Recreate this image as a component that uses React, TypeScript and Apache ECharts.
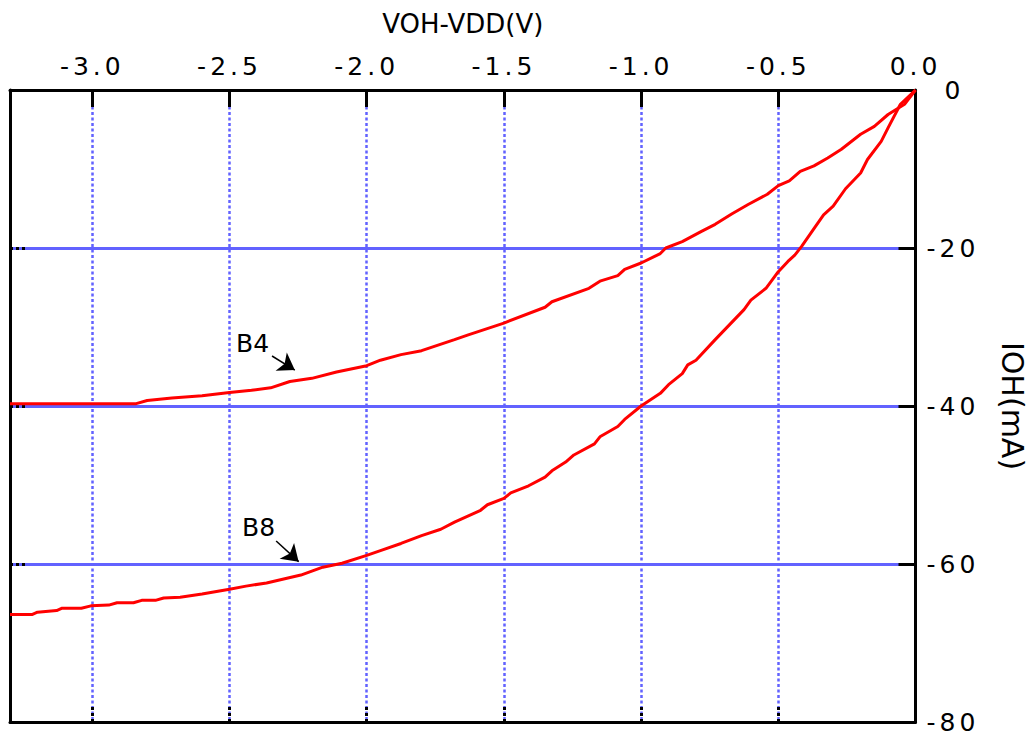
import React, { useEffect, useRef } from 'react';
import * as echarts from 'echarts';

// B4 curve (VOH-VDD in V, IOH in mA)
const b4X = [-3.3, -2.84, -2.80, -2.71, -2.60, -2.50, -2.42, -2.35, -2.28, -2.20,
  -2.11, -2.00, -1.95, -1.875, -1.80, -1.68, -1.63, -1.50, -1.35, -1.325,
  -1.19, -1.15, -1.085, -1.06, -1.00, -0.93, -0.91, -0.85, -0.78, -0.73,
  -0.67, -0.61, -0.54, -0.50, -0.46, -0.42, -0.37, -0.32, -0.27, -0.20,
  -0.15, -0.10, -0.04, 0];
const b4Y = [-39.7, -39.7, -39.3, -39.0, -38.7, -38.3, -38.0, -37.7, -36.9, -36.5,
  -35.7, -34.9, -34.2, -33.5, -33.0, -31.6, -31.0, -29.5, -27.5, -26.8,
  -25.1, -24.2, -23.5, -22.7, -21.9, -20.7, -20.0, -19.2, -17.9, -17.0,
  -15.7, -14.5, -13.2, -12.1, -11.5, -10.3, -9.6, -8.6, -7.5, -5.6,
  -4.6, -3.1, -1.8, 0];

// B8 curve
const b8X = [-3.3, -3.22, -3.20, -3.13, -3.11, -3.04, -3.005, -2.94, -2.91, -2.85,
  -2.82, -2.77, -2.74, -2.68, -2.60, -2.50, -2.44, -2.365, -2.24, -2.16,
  -2.09, -2.00, -1.95, -1.875, -1.80, -1.73, -1.68, -1.585, -1.56, -1.50,
  -1.475, -1.41, -1.35, -1.325, -1.275, -1.245, -1.17, -1.15, -1.085, -1.06,
  -1.00, -0.93, -0.90, -0.85, -0.83, -0.80, -0.73, -0.625, -0.60, -0.545,
  -0.50, -0.465, -0.44, -0.415, -0.365, -0.335, -0.30, -0.255, -0.20, -0.175,
  -0.125, -0.10, -0.055, 0];
const b8Y = [-66.4, -66.4, -66.1, -65.9, -65.6, -65.6, -65.3, -65.2, -64.9, -64.9,
  -64.6, -64.6, -64.3, -64.2, -63.8, -63.2, -62.8, -62.4, -61.4, -60.4,
  -59.9, -58.9, -58.3, -57.4, -56.4, -55.6, -54.7, -53.2, -52.5, -51.7,
  -51.0, -50.1, -49.0, -48.2, -47.1, -46.2, -44.8, -43.9, -42.6, -41.7,
  -40.0, -38.4, -37.3, -35.9, -34.8, -34.2, -31.6, -27.8, -26.6, -25.1,
  -23.0, -21.7, -20.9, -19.8, -17.3, -15.8, -14.7, -12.5, -10.5, -8.8,
  -6.5, -4.8, -1.8, 0];

// annotations: label anchor and arrow (start, end) in data coordinates
const b4LabelAt = [-2.416, -32.15];
const b4Arrow = [[-2.345, -33.67], [-2.262, -35.45]];
const b8LabelAt = [-2.394, -55.38];
const b8Arrow = [[-2.330, -57.09], [-2.248, -59.70]];

const xMin = -3.3;
const xMax = 0;
const yMin = -80;
const yMax = 0;

const BLUE = '#6262ff';
const RED = '#ff0000';
const TICK_FONT = 'DejaVu Sans, Verdana';
const NAME_FONT = 'DejaVu Sans';

export default function App() {
  const ref = useRef<HTMLDivElement>(null);

  useEffect(() => {
    const chart = echarts.init(ref.current!, null, { renderer: 'svg' });

    const xLabel = (v: number) => {
      const k = v / 0.5;
      if (Math.abs(k - Math.round(k)) > 1e-6) return '';
      return v.toFixed(1);
    };

    const annot = (label: string, at: number[], arrow: number[][]) => ({
      markLine: {
        silent: true,
        symbol: ['none', 'arrow'],
        symbolSize: 16,
        label: { show: false },
        lineStyle: { color: '#000', width: 1.5, type: 'solid' },
        data: [[{ coord: arrow[0] }, { coord: arrow[1] }]],
      },
      markPoint: {
        silent: true,
        symbol: 'circle',
        symbolSize: 1,
        itemStyle: { color: 'rgba(0,0,0,0)' },
        label: {
          show: true,
          position: 'inside',
          formatter: label,
          color: '#000',
          fontSize: 25,
          fontFamily: NAME_FONT,
        },
        data: [{ coord: at }],
      },
    });

    chart.setOption({
      animation: false,
      backgroundColor: '#ffffff',
      grid: {
        left: 10,
        right: 116.5,
        top: 90,
        bottom: 18,
        containLabel: false,
        outerBoundsMode: 'none',
      },
      xAxis: [
        {
          type: 'value',
          position: 'top',
          min: xMin,
          max: xMax,
          minInterval: 0.5,
          maxInterval: 0.5,
          z: 3,
          name: 'VOH-VDD(V)',
          nameLocation: 'middle',
          nameGap: 53,
          nameTextStyle: { fontSize: 26, color: '#000', fontFamily: NAME_FONT },
          axisLine: { show: true, onZero: false, lineStyle: { color: '#000', width: 3 } },
          axisTick: { show: true, inside: true, length: 17, lineStyle: { color: '#000', width: 3 } },
          axisLabel: {
            show: true,
            margin: 11,
            showMinLabel: false,
            formatter: xLabel,
            fontSize: 25,
            color: '#000',
            fontFamily: TICK_FONT,
          },
          splitLine: { show: false },
        },
        {
          type: 'value',
          position: 'bottom',
          min: xMin,
          max: xMax,
          minInterval: 0.5,
          maxInterval: 0.5,
          z: 1,
          axisLine: { show: true, onZero: false, lineStyle: { color: '#000', width: 3 } },
          axisTick: { show: true, inside: true, length: 17, lineStyle: { color: '#000', width: 3, type: [3, 3] } },
          axisLabel: { show: false },
          splitLine: {
            show: true,
            showMinLine: false,
            showMaxLine: false,
            lineStyle: { color: BLUE, width: 2.5, type: [3, 2.5] },
          },
        },
      ],
      yAxis: [
        {
          type: 'value',
          position: 'right',
          min: yMin,
          max: yMax,
          interval: 20,
          z: 3,
          name: 'IOH(mA)',
          nameLocation: 'middle',
          nameRotate: -90,
          nameGap: 82,
          nameTextStyle: { fontSize: 30, color: '#000', fontFamily: NAME_FONT },
          axisLine: { show: true, onZero: false, lineStyle: { color: '#000', width: 3 } },
          axisTick: { show: true, inside: true, length: 17, lineStyle: { color: '#000', width: 3 } },
          axisLabel: {
            show: true,
            margin: 11,
            fontSize: 25,
            color: '#000',
            fontFamily: TICK_FONT,
            formatter: (v: number) => (v === 0 ? '{z|0}' : String(v)),
            rich: {
              z: { padding: [0, 0, 0, 18], fontSize: 25, color: '#000', fontFamily: TICK_FONT },
            },
          },
          splitLine: { show: false },
        },
        {
          type: 'value',
          position: 'left',
          min: yMin,
          max: yMax,
          interval: 20,
          z: 1,
          axisLine: { show: true, onZero: false, lineStyle: { color: '#000', width: 3 } },
          axisTick: { show: true, inside: true, length: 17, lineStyle: { color: '#000', width: 3, type: [3, 3] } },
          axisLabel: { show: false },
          splitLine: {
            show: true,
            showMinLine: false,
            showMaxLine: false,
            lineStyle: { color: BLUE, width: 3, type: 'solid' },
          },
        },
      ],
      series: [
        {
          name: 'B4',
          type: 'line',
          xAxisIndex: 0,
          yAxisIndex: 0,
          z: 4,
          symbol: 'none',
          showSymbol: false,
          lineStyle: { color: RED, width: 3 },
          itemStyle: { color: RED },
          data: b4X.map((x, i) => [x, b4Y[i]]),
          ...annot('B4', b4LabelAt, b4Arrow),
        },
        {
          name: 'B8',
          type: 'line',
          xAxisIndex: 0,
          yAxisIndex: 0,
          z: 4,
          symbol: 'none',
          showSymbol: false,
          lineStyle: { color: RED, width: 3 },
          itemStyle: { color: RED },
          data: b8X.map((x, i) => [x, b8Y[i]]),
          ...annot('B8', b8LabelAt, b8Arrow),
        },
      ],
    });

    return () => chart.dispose();
  }, []);

  return (
    <>
      <style>{'text[style*="Verdana"]{letter-spacing:4px}'}</style>
      <div
        ref={ref}
        style={{ position: 'absolute', left: 0, top: 0, width: 1032, height: 740, background: '#fff' }}
      />
    </>
  );
}
